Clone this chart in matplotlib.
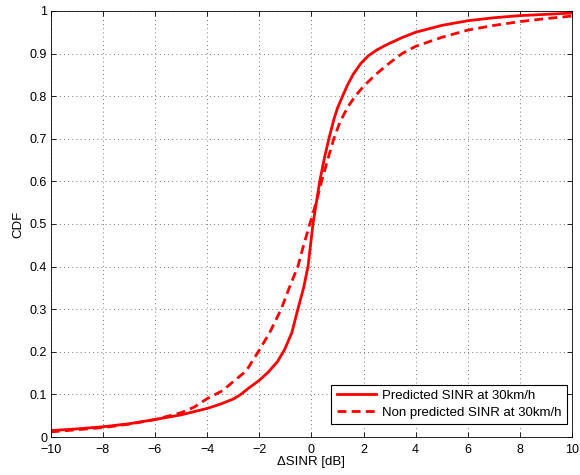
import numpy as np
import matplotlib
matplotlib.use('Agg')
from matplotlib import pyplot as plt

plt.rcParams['font.family'] = ['Liberation Sans', 'DejaVu Sans']

# solid curve: predicted SINR
pred_x = [-10, -9, -8, -7, -6, -5, -4, -3.5, -3, -2.73, -2.4, -2, -1.66, -1.3,
          -1.03, -0.75, -0.52, -0.3, -0.13, 0.06, 0.32, 0.5, 0.67, 0.86, 1.0,
          1.23, 1.4, 1.61, 1.9, 2.19, 2.5, 2.77, 3.0, 3.5, 4, 5, 6, 7, 8, 9, 10]
pred_y = [0.015, 0.019, 0.024, 0.031, 0.041, 0.052, 0.067, 0.077, 0.089, 0.099,
          0.115, 0.133, 0.152, 0.177, 0.205, 0.245, 0.30, 0.35, 0.40, 0.50, 0.60,
          0.655, 0.70, 0.745, 0.772, 0.805, 0.828, 0.852, 0.877, 0.895, 0.908,
          0.917, 0.924, 0.938, 0.950, 0.966, 0.977, 0.984, 0.989, 0.992, 0.995]

# dashed curve: non predicted SINR
nonpred_x = [-10, -9, -8, -7, -6, -5, -4.5, -4, -3.4, -3, -2.5, -2.04, -1.6,
             -1.16, -0.85, -0.52, -0.3, -0.06, 0.18, 0.39, 0.62, 0.86, 1.1,
             1.4, 1.68, 2.0, 2.45, 3.0, 3.48, 4, 5, 6, 7, 8, 9, 10]
nonpred_y = [0.012, 0.017, 0.022, 0.030, 0.041, 0.057, 0.07, 0.09, 0.109, 0.13,
             0.155, 0.20, 0.245, 0.30, 0.35, 0.40, 0.45, 0.50, 0.55, 0.60, 0.65,
             0.70, 0.74, 0.775, 0.80, 0.823, 0.85, 0.878, 0.90, 0.917, 0.938,
             0.955, 0.966, 0.975, 0.982, 0.988]

xticks = np.arange(-10, 11, 2)
yticks = np.arange(0, 1.01, 0.1)
ytick_labels = ['0', '0.1', '0.2', '0.3', '0.4', '0.5', '0.6', '0.7', '0.8', '0.9', '1']

fig = plt.figure(figsize=(5.8, 4.75), dpi=100)
ax = fig.add_axes([0.0874, 0.08, 0.899, 0.897])

ax.plot(pred_x, pred_y, '-', color='red', lw=2.0, label='Predicted SINR at 30km/h')
ax.plot(nonpred_x, nonpred_y, '--', color='red', lw=2.0, dashes=(3.2, 1.9),
        label='Non predicted SINR at 30km/h')

ax.set_xlim(-10, 10)
ax.set_ylim(0, 1)
ax.set_xticks(xticks)
ax.set_xticklabels([str(t).replace('-', '\u2212') for t in xticks])
ax.set_yticks(yticks)
ax.set_yticklabels(ytick_labels)
ax.tick_params(direction='in', top=True, right=True, labelsize=9, length=3.6,
               width=0.6, pad=2.5)
ax.tick_params(axis='x', pad=5)
ax.grid(True, linestyle=(0, (1, 4)), color='0.3', lw=0.6)
for s in ax.spines.values():
    s.set_linewidth(0.6)

ax.set_xlabel('\u0394SINR [dB]', fontsize=9.5, labelpad=0)
ax.set_ylabel('CDF', fontsize=9.5, labelpad=4)

leg = ax.legend(loc='lower right', fontsize=9.5, fancybox=False, framealpha=1,
                edgecolor='black', borderpad=0.4, handlelength=3.0,
                handletextpad=0.45, labelspacing=0.35, borderaxespad=0,
                bbox_to_anchor=(0.99, 0.03))
leg.get_frame().set_linewidth(0.8)

fig.savefig('out.png', dpi=100)
